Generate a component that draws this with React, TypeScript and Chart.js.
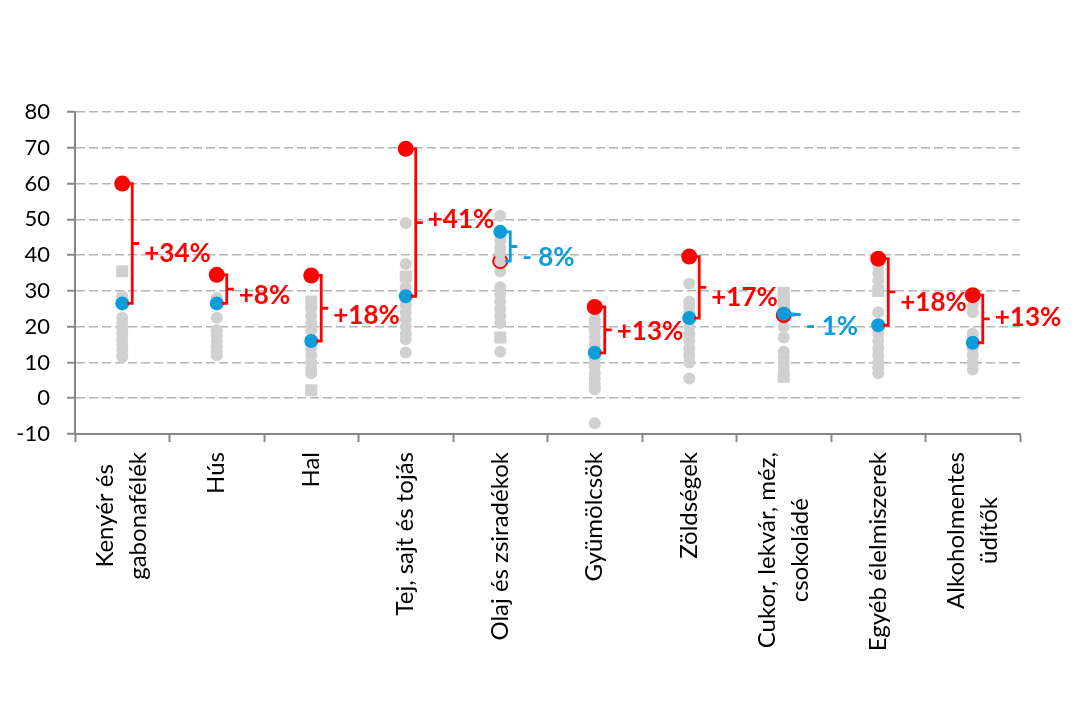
import React, { useEffect, useRef } from "react";
import { Chart, registerables } from "chart.js";

Chart.register(...registerables);

// ---------- data ----------
const categories: string[][] = [
  ["Kenyér és", "gabonafélék"],
  ["Hús"],
  ["Hal"],
  ["Tej, sajt és tojás"],
  ["Olaj és zsiradékok"],
  ["Gyümölcsök"],
  ["Zöldségek"],
  ["Cukor, lekvár, méz,", "csokoládé"],
  ["Egyéb élelmiszerek"],
  ["Alkoholmentes", "üdítők"],
];

const yTicks = { min: -10, max: 80, step: 10 };

const redValues = [60, 34.5, 34.3, 69.7, 38.3, 25.5, 39.6, 23.2, 39, 28.8];
const blueValues = [26.5, 26.5, 16, 28.5, 46.5, 12.7, 22.4, 23.6, 20.4, 15.5];

const changeLabels = ["+34%", "+8%", "+18%", "+41%", "- 8%", "+13%", "+17%", "- 1%", "+18%", "+13%"];
const changeLabelValues = [40.3, 28.8, 23.2, 49.8, 39.4, 18.5, 28, 19.9, 26.6, 22.4];

const grayDots: number[][] = [
  [28.5, 22.5, 21, 19.5, 18, 16.5, 15, 13.5, 12, 11.5],
  [28, 22.5, 19, 17.5, 16, 14.5, 13, 12],
  [25, 23, 21, 19, 14, 12, 10, 8, 7],
  [49, 37.5, 31, 29, 26, 24, 22, 20, 18, 16.5, 12.8],
  [51, 44, 42, 35.5, 31, 29, 27, 25, 23, 21, 13],
  [22, 21, 19, 17, 15, 11, 9, 7, 5.5, 4, 3, 2.5, -7],
  [32, 27, 25.5, 24, 20, 18, 16, 14, 12, 10, 5.5],
  [20, 17, 13, 11.5, 10, 8.5],
  [37, 35, 33, 24, 18, 16, 14, 12, 10, 8.5, 7],
  [26, 24, 18, 16.5, 14, 12, 10, 8],
];
const graySquares: number[][] = [[35.5], [], [27, 2.2], [34], [17], [], [], [29.5, 27.5, 25.5, 6], [30], []];
// gray country dots that sit on top of the red marker
const grayOverDots: number[][] = [[], [], [], [], [40.5, 38.3], [], [], [], [], []];

// ---------- styles ----------
const RED = "#ff0000";
const BLUE = "#0b9ddb";
const GRAY = "#d0d0d0";
const AXIS = "#878787";
const FONT = "Lato";

const labelKeys = categories.map((c) => c.join(" "));

const toPoints = (arr: number[][]) => {
  const out: { x: string; y: number }[] = [];
  arr.forEach((vals, i) => vals.forEach((v) => out.push({ x: labelKeys[i], y: v })));
  return out;
};

const annotPlugin = {
  id: "annot",
  afterDatasetsDraw(chart: any) {
    const { ctx, scales } = chart;
    const x = scales.x;
    const y = scales.y;
    ctx.save();
    redValues.forEach((r, i) => {
      const b = blueValues[i];
      const up = r >= b;
      const color = up ? RED : BLUE;
      const cx = x.getPixelForValue(i);
      const yr = y.getPixelForValue(r);
      const yb = y.getPixelForValue(b);
      const bx = cx + 10;
      const ym = (yr + yb) / 2;
      ctx.strokeStyle = color;
      ctx.lineWidth = 2.8;
      ctx.lineJoin = "miter";
      ctx.lineCap = "butt";
      ctx.beginPath();
      ctx.moveTo(cx + 5, yr);
      ctx.lineTo(bx, yr);
      ctx.lineTo(bx, yb);
      ctx.lineTo(cx + 5, yb);
      ctx.moveTo(bx, ym);
      ctx.lineTo(bx + 7, ym);
      ctx.stroke();
      ctx.fillStyle = color;
      ctx.font = `bold 26px ${FONT}`;
      ctx.textAlign = "left";
      ctx.textBaseline = "middle";
      ctx.fillText(changeLabels[i], bx + 12, y.getPixelForValue(changeLabelValues[i]));
    });
    ctx.restore();
  },
  afterDraw(chart: any) {
    const { ctx, scales } = chart;
    const x = scales.x;
    ctx.save();
    ctx.font = `24px ${FONT}`;
    ctx.fillStyle = "#000";
    const lineH = 33;
    categories.forEach((lines, i) => {
      const cx = x.getPixelForValue(i);
      const top = x.top + 18;
      const maxW = Math.max(...lines.map((l) => ctx.measureText(l).width));
      ctx.save();
      ctx.translate(cx, top);
      ctx.rotate(-Math.PI / 2);
      ctx.textAlign = "center";
      ctx.textBaseline = "middle";
      lines.forEach((l, k) => {
        ctx.fillText(l, -maxW / 2, (k - (lines.length - 1) / 2) * lineH);
      });
      ctx.restore();
    });
    ctx.restore();
  },
};

export default function App() {
  const ref = useRef<HTMLCanvasElement>(null);
  useEffect(() => {
    if (!ref.current) return;
    const chart = new Chart(ref.current, {
      type: "line",
      data: {
        labels: labelKeys,
        datasets: [
          {
            label: "blue",
            data: blueValues.map((v, i) => ({ x: labelKeys[i], y: v })),
            showLine: false,
            pointRadius: 7,
            pointBorderWidth: 0,
            pointBackgroundColor: BLUE,
            order: 0,
          },
          {
            label: "grayOver",
            data: toPoints(grayOverDots),
            showLine: false,
            pointRadius: 6,
            pointBorderWidth: 0,
            pointBackgroundColor: GRAY,
            order: 1,
          },
          {
            label: "red",
            data: redValues.map((v, i) => ({ x: labelKeys[i], y: v })),
            showLine: false,
            pointRadius: 8,
            pointBorderWidth: 0,
            pointBackgroundColor: RED,
            order: 2,
          },
          {
            label: "squares",
            data: toPoints(graySquares),
            showLine: false,
            pointStyle: "rect",
            pointRadius: 8.5,
            pointBorderWidth: 0,
            pointBackgroundColor: GRAY,
            order: 3,
          },
          {
            label: "gray",
            data: toPoints(grayDots),
            showLine: false,
            pointRadius: 6,
            pointBorderWidth: 0,
            pointBackgroundColor: GRAY,
            order: 4,
          },
        ] as any,
      },
      options: {
        animation: false,
        responsive: false,
        maintainAspectRatio: false,
        events: [],
        layout: { padding: { top: 112, right: 71, left: 0, bottom: 0 } },
        plugins: { legend: { display: false }, tooltip: { enabled: false } },
        scales: {
          x: {
            type: "category",
            offset: true,
            grid: {
              offset: true,
              drawOnChartArea: false,
              drawTicks: true,
              tickLength: 8,
              tickColor: AXIS,
              tickWidth: 2,
            },
            border: { color: AXIS, width: 2 },
            ticks: { display: false },
            afterFit: (s: any) => {
              s.height = 293;
            },
          },
          y: {
            min: yTicks.min,
            max: yTicks.max,
            ticks: {
              stepSize: yTicks.step,
              padding: 17,
              color: "#000",
              font: { family: FONT, size: 22 },
            },
            grid: {
              color: "#b4b4b4",
              lineWidth: 1.5,
              tickColor: AXIS,
              tickWidth: 2,
              tickLength: 8,
              tickBorderDash: [],
            },
            border: { color: AXIS, width: 2, dash: [9, 4] },
            afterFit: (s: any) => {
              s.width = 75;
            },
          },
        },
      } as any,
      plugins: [annotPlugin],
    });
    return () => chart.destroy();
  }, []);
  return (
    <div style={{ position: "absolute", left: 0, top: 0, width: 1091, height: 727, background: "#fff" }}>
      <canvas ref={ref} width={1091} height={727} />
    </div>
  );
}
